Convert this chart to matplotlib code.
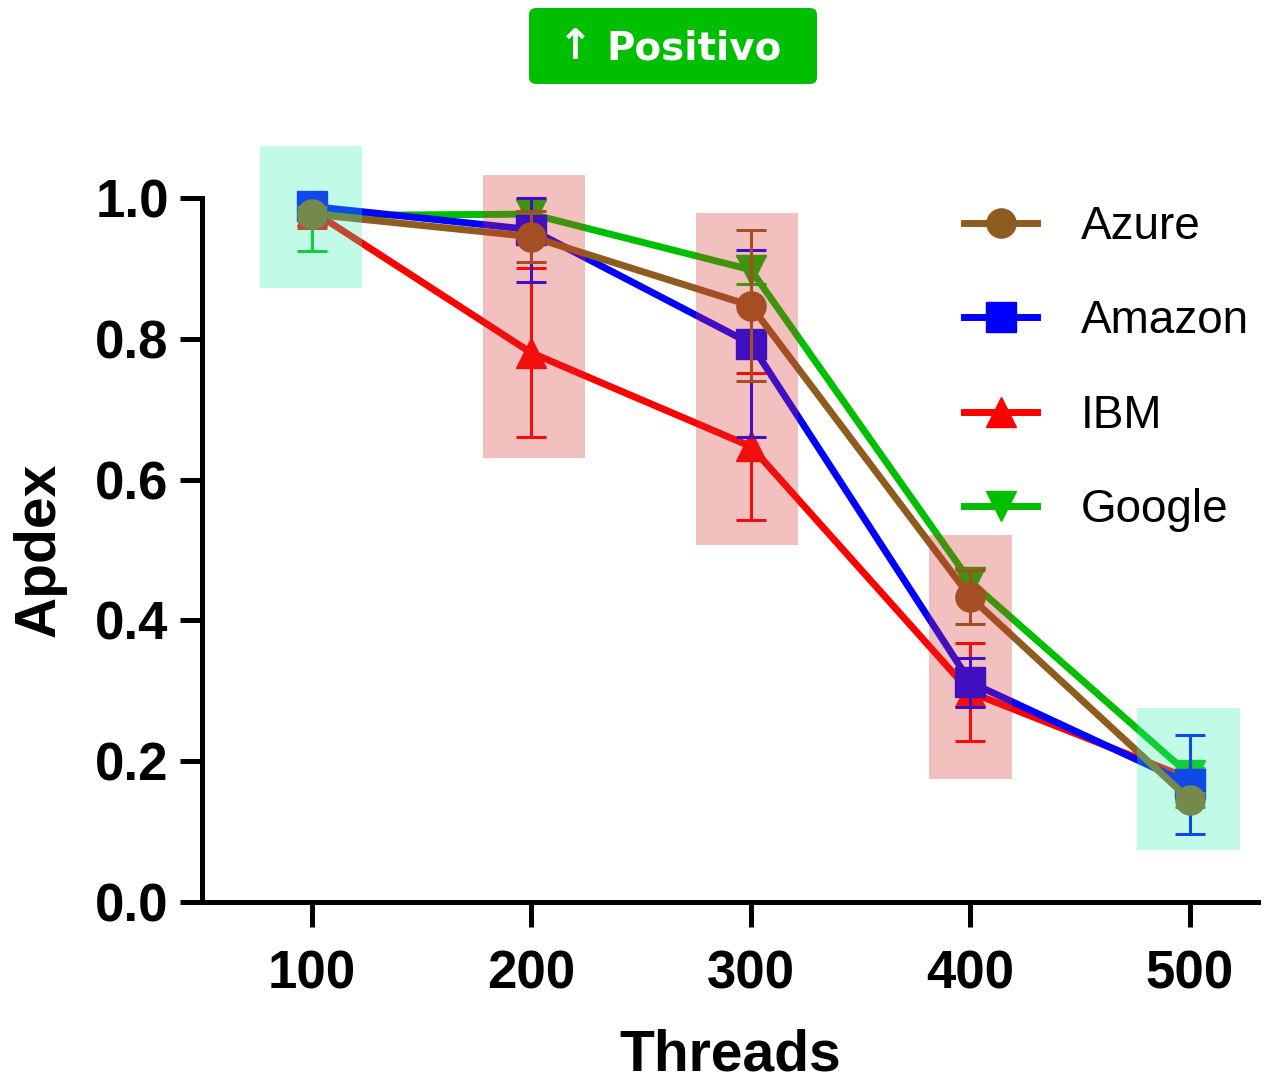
import matplotlib
matplotlib.use("Agg")
import matplotlib.pyplot as plt
from matplotlib.patches import Rectangle, FancyBboxPatch
from matplotlib.lines import Line2D

# Data
threads = [100, 200, 300, 400, 500]
azure = [0.977, 0.945, 0.847, 0.433, 0.145]
azure_err = [0.01, 0.036, 0.107, 0.038, 0.01]
amazon = [0.988, 0.955, 0.793, 0.312, 0.167]
amazon_err_low = [0.02, 0.075, 0.133, 0.035, 0.07]
amazon_err_high = [0.012, 0.045, 0.133, 0.035, 0.07]
ibm = [0.982, 0.78, 0.647, 0.298, 0.175]
ibm_err = [0.025, 0.12, 0.104, 0.07, 0.01]
google = [0.975, 0.977, 0.898, 0.455, 0.18]
google_err_low = [0.05, 0.02, 0.02, 0.02, 0.01]
google_err_high = [0.02, 0.02, 0.02, 0.02, 0.01]

# Highlight bands: (x_left, x_right, y_bottom, y_top, kind)
bands = [
    (76.3, 122.8, 0.872, 1.074, "good"),
    (177.9, 224.4, 0.631, 1.033, "bad"),
    (275.0, 321.4, 0.507, 0.979, "bad"),
    (381.0, 419.0, 0.175, 0.521, "bad"),
    (476.0, 523.0, 0.074, 0.276, "good"),
]
band_colors = {"good": "#34f5b6", "bad": "#d9302f"}

fig = plt.figure(figsize=(12.76, 10.8), dpi=100)
ax = fig.add_axes([0.1583, 0.1648, 0.8276, 0.7171])

c_azure = "#8f5c1f"
c_amazon = "#0000ff"
c_ibm = "#ff0000"
c_google = "#00be00"

LW, MS = 5, 21
common = dict(linewidth=LW, markersize=MS, elinewidth=2.2, capsize=11, capthick=2.2)
ax.errorbar(threads, google, yerr=[google_err_low, google_err_high], color=c_google, marker="v",
            zorder=3, **common)
ax.errorbar(threads, ibm, yerr=ibm_err, color=c_ibm, marker="^", zorder=4, **common)
ax.errorbar(threads, amazon, yerr=[amazon_err_low, amazon_err_high], color=c_amazon, marker="s",
            zorder=5, **common)
ax.errorbar(threads, azure, yerr=azure_err, color=c_azure, marker="o", zorder=6, **common)

for x0, x1, y0, y1, kind in bands:
    ax.add_patch(Rectangle((x0, y0), x1 - x0, y1 - y0, facecolor=band_colors[kind],
                           alpha=0.3, edgecolor="none", zorder=10, clip_on=False))

ax.set_xlim(50, 531)
ax.set_ylim(0, 1.1)
ax.spines["top"].set_visible(False)
ax.spines["right"].set_visible(False)
for s in ("left", "bottom"):
    ax.spines[s].set_linewidth(3.6)
ax.spines["left"].set_bounds(0, 1.0)

ax.set_xticks(threads)
ax.set_yticks([0.0, 0.2, 0.4, 0.6, 0.8, 1.0])
ax.set_yticklabels(["0.0", "0.2", "0.4", "0.6", "0.8", "1.0"])
ax.tick_params(axis="both", direction="out", width=3.6, labelsize=38)
ax.tick_params(axis="y", length=16, pad=8)
ax.tick_params(axis="x", length=18, pad=16)
for lab in ax.get_xticklabels() + ax.get_yticklabels():
    lab.set_fontweight("bold")
    lab.set_family("Liberation Sans")

ax.set_xlabel("Threads", fontsize=41, fontweight="bold", family="Liberation Sans")
ax.xaxis.set_label_coords(0.5, -0.1976)
ax.xaxis.label.set_va("center")
ax.set_ylabel("Apdex", fontsize=41, fontweight="bold", family="Liberation Sans")
ax.yaxis.set_label_coords(-0.1534, 0.4545)
ax.yaxis.label.set_va("center")

series = [("Azure", c_azure, "o"), ("Amazon", c_amazon, "s"), ("IBM", c_ibm, "^"), ("Google", c_google, "v")]
handles = [Line2D([], [], color=c, marker=m, linewidth=LW, markersize=MS) for _, c, m in series]
ax.legend(handles, [n for n, _, _ in series],
          loc="upper left", bbox_to_anchor=(0.70, 0.9297), frameon=False, borderpad=0,
          prop={"family": "Liberation Sans", "size": 33},
          handlelength=1.6, handletextpad=0.94, labelspacing=1.1)

# Badge at the top
badge = FancyBboxPatch((529 / 1276, 1 - 84 / 1080), (817 - 529) / 1276, (84 - 8) / 1080,
                       boxstyle="round,pad=0,rounding_size=0.006", transform=fig.transFigure,
                       facecolor="#00be00", edgecolor="none")
fig.patches.append(badge)
fig.text(575 / 1276, 1 - 47 / 1080, "↑", color="white", fontsize=30, fontweight="bold",
         ha="center", va="center", family="DejaVu Sans")
fig.text(694 / 1276, 1 - 48 / 1080, "Positivo", color="white", fontsize=28, fontweight="bold",
         ha="center", va="center", family="DejaVu Sans")

fig.savefig("out.png", dpi=100)
